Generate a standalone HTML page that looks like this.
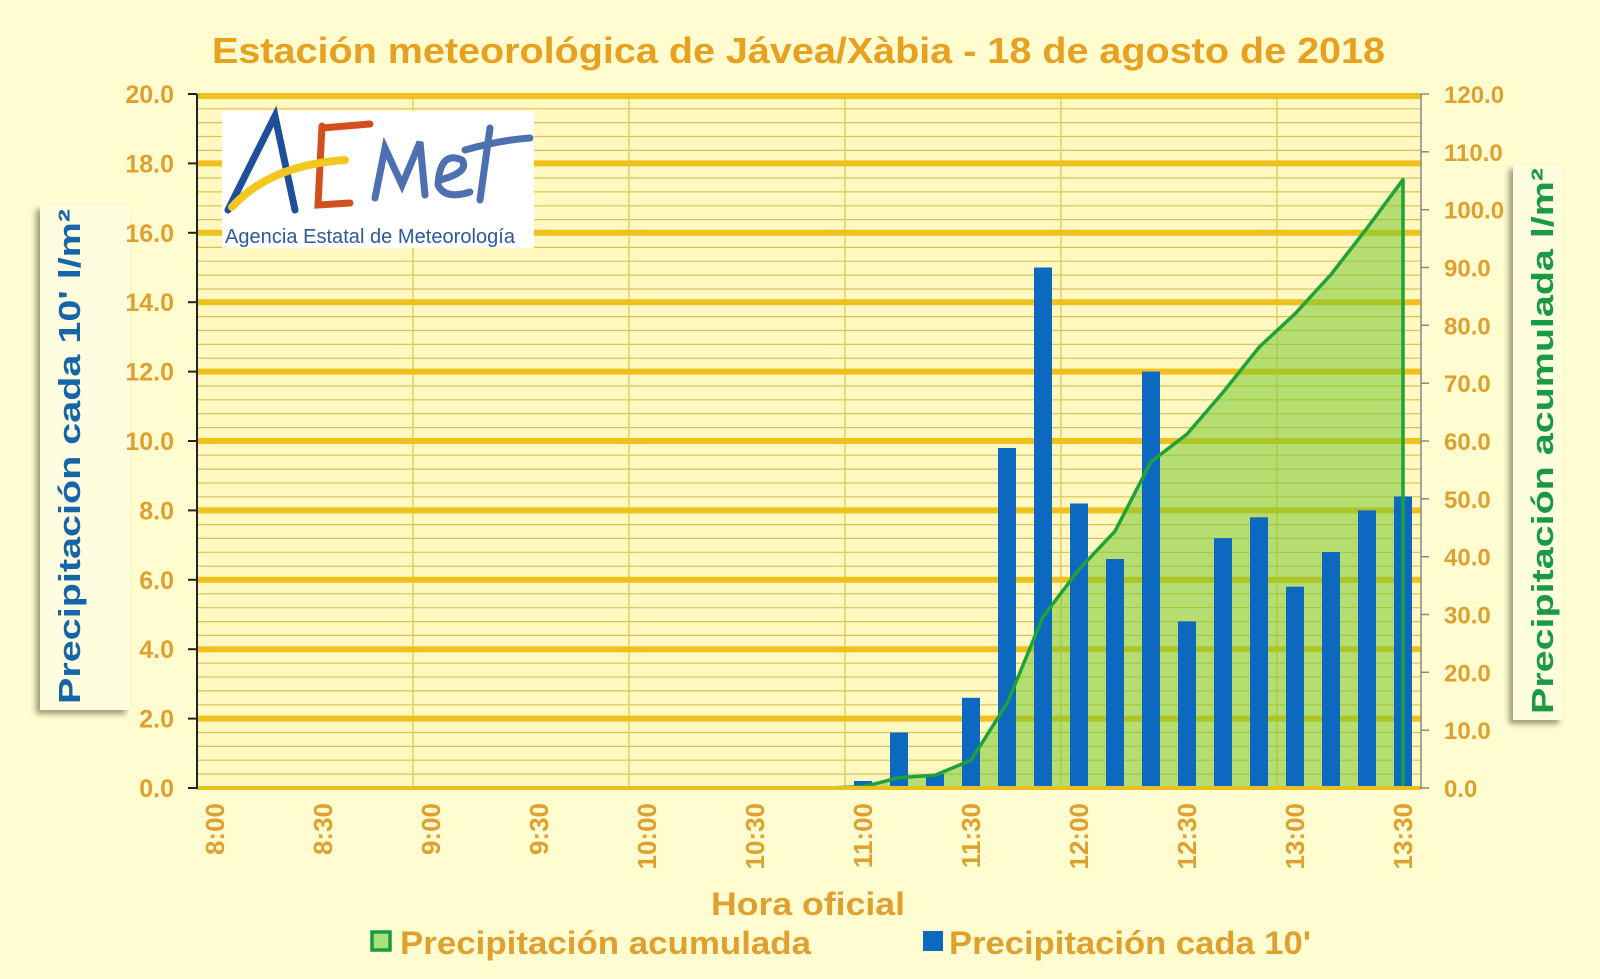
<!DOCTYPE html>
<html><head><meta charset="utf-8"><style>
html,body{margin:0;padding:0;background:#fffdd0;}
svg{display:block}
</style></head><body>
<svg width="1600" height="979" viewBox="0 0 1600 979" xmlns="http://www.w3.org/2000/svg" font-family="Liberation Sans, sans-serif">
<rect width="1600" height="979" fill="#fffdd0"/>
<text x="212" y="63" font-size="36" font-weight="bold" fill="#e8a020" textLength="1173" lengthAdjust="spacingAndGlyphs">Estación meteorológica de Jávea/Xàbia - 18 de agosto de 2018</text>
<rect x="40" y="205" width="90" height="505" fill="#fffde0" style="filter:drop-shadow(-4px 4px 3px rgba(90,90,60,0.6))"/>
<text transform="translate(80,704) rotate(-90)" font-size="31" font-weight="bold" fill="#1565a8" textLength="495" lengthAdjust="spacingAndGlyphs">Precipitación cada 10' l/m²</text>
<rect x="1513" y="165" width="50" height="555" fill="#fffde0" style="filter:drop-shadow(-4px 4px 3px rgba(90,90,60,0.6))"/>
<text transform="translate(1553,714) rotate(-90)" font-size="31" font-weight="bold" fill="#1a9a45" textLength="546" lengthAdjust="spacingAndGlyphs">Precipitación acumulada l/m²</text>
<rect x="197" y="94" width="1224" height="694" fill="#fff8c0"/>
<g stroke="#d8c35a" stroke-width="1.2">
<line x1="197" x2="1421" y1="774.1" y2="774.1"/><line x1="197" x2="1421" y1="760.2" y2="760.2"/><line x1="197" x2="1421" y1="746.4" y2="746.4"/><line x1="197" x2="1421" y1="732.5" y2="732.5"/>
<line x1="197" x2="1421" y1="704.8" y2="704.8"/><line x1="197" x2="1421" y1="690.9" y2="690.9"/><line x1="197" x2="1421" y1="677" y2="677"/><line x1="197" x2="1421" y1="663.2" y2="663.2"/>
<line x1="197" x2="1421" y1="635.4" y2="635.4"/><line x1="197" x2="1421" y1="621.6" y2="621.6"/><line x1="197" x2="1421" y1="607.7" y2="607.7"/><line x1="197" x2="1421" y1="593.8" y2="593.8"/>
<line x1="197" x2="1421" y1="566.2" y2="566.2"/><line x1="197" x2="1421" y1="552.3" y2="552.3"/><line x1="197" x2="1421" y1="538.4" y2="538.4"/><line x1="197" x2="1421" y1="524.6" y2="524.6"/>
<line x1="197" x2="1421" y1="496.8" y2="496.8"/><line x1="197" x2="1421" y1="483" y2="483"/><line x1="197" x2="1421" y1="469.1" y2="469.1"/><line x1="197" x2="1421" y1="455.2" y2="455.2"/>
<line x1="197" x2="1421" y1="427.6" y2="427.6"/><line x1="197" x2="1421" y1="413.7" y2="413.7"/><line x1="197" x2="1421" y1="399.8" y2="399.8"/><line x1="197" x2="1421" y1="386" y2="386"/>
<line x1="197" x2="1421" y1="358.2" y2="358.2"/><line x1="197" x2="1421" y1="344.4" y2="344.4"/><line x1="197" x2="1421" y1="330.5" y2="330.5"/><line x1="197" x2="1421" y1="316.6" y2="316.6"/>
<line x1="197" x2="1421" y1="289" y2="289"/><line x1="197" x2="1421" y1="275.1" y2="275.1"/><line x1="197" x2="1421" y1="261.2" y2="261.2"/><line x1="197" x2="1421" y1="247.4" y2="247.4"/>
<line x1="197" x2="1421" y1="219.6" y2="219.6"/><line x1="197" x2="1421" y1="205.8" y2="205.8"/><line x1="197" x2="1421" y1="191.9" y2="191.9"/><line x1="197" x2="1421" y1="178" y2="178"/>
<line x1="197" x2="1421" y1="150.4" y2="150.4"/><line x1="197" x2="1421" y1="136.5" y2="136.5"/><line x1="197" x2="1421" y1="122.6" y2="122.6"/><line x1="197" x2="1421" y1="108.8" y2="108.8"/>
</g>
<g stroke="#e6d060" stroke-width="1.5">
<line x1="413" x2="413" y1="94" y2="788"/><line x1="629" x2="629" y1="94" y2="788"/><line x1="845" x2="845" y1="94" y2="788"/><line x1="1061" x2="1061" y1="94" y2="788"/><line x1="1277" x2="1277" y1="94" y2="788"/>
</g>
<g stroke="#f0c01c" stroke-width="6">
<line x1="197" x2="1421" y1="718.6" y2="718.6"/><line x1="197" x2="1421" y1="649.2" y2="649.2"/><line x1="197" x2="1421" y1="579.8" y2="579.8"/><line x1="197" x2="1421" y1="510.4" y2="510.4"/><line x1="197" x2="1421" y1="441" y2="441"/><line x1="197" x2="1421" y1="371.6" y2="371.6"/><line x1="197" x2="1421" y1="302.2" y2="302.2"/><line x1="197" x2="1421" y1="232.8" y2="232.8"/><line x1="197" x2="1421" y1="163.4" y2="163.4"/><line x1="197" x2="1421" y1="96" y2="96"/>
</g>
<polygon points="827,788 863,786.8 899,777.6 935,775.3 971,760.2 1007,703.6 1043,616.8 1079,569.4 1115,531.2 1151,461.8 1187,434.1 1223,392.4 1259,347.3 1295,313.8 1331,274.5 1367,228.2 1403,179.6 1403,788" fill="rgba(120,200,50,0.55)"/>
<g fill="#0d68c0">
<rect x="854" y="781" width="18" height="7"/><rect x="890" y="732.5" width="18" height="55.5"/><rect x="926" y="774" width="18" height="14"/><rect x="962" y="697.8" width="18" height="90.2"/><rect x="998" y="448" width="18" height="340"/><rect x="1034" y="267.5" width="18" height="520.5"/><rect x="1070" y="503.5" width="18" height="284.5"/><rect x="1106" y="559" width="18" height="229"/><rect x="1142" y="371.6" width="18" height="416.4"/><rect x="1178" y="621.4" width="18" height="166.6"/><rect x="1214" y="538.2" width="18" height="249.8"/><rect x="1250" y="517.3" width="18" height="270.7"/><rect x="1286" y="586.7" width="18" height="201.3"/><rect x="1322" y="552" width="18" height="236"/><rect x="1358" y="510.4" width="18" height="277.6"/><rect x="1394" y="496.5" width="18" height="291.5"/>
</g>
<polyline points="827,788 863,786.8 899,777.6 935,775.3 971,760.2 1007,703.6 1043,616.8 1079,569.4 1115,531.2 1151,461.8 1187,434.1 1223,392.4 1259,347.3 1295,313.8 1331,274.5 1367,228.2 1403,179.6 1403,788" fill="none" stroke="#1fa23a" stroke-width="3.5" stroke-linejoin="round"/>
<line x1="197" x2="1421" y1="788" y2="788" stroke="#e8c020" stroke-width="4"/>
<line x1="197" x2="197" y1="94" y2="789" stroke="#222" stroke-width="2"/>
<line x1="1421" x2="1421" y1="94" y2="789" stroke="#888" stroke-width="1.5"/>
<g stroke="#222" stroke-width="2">
<line x1="188" x2="197" y1="788" y2="788"/><line x1="188" x2="197" y1="718.6" y2="718.6"/><line x1="188" x2="197" y1="649.2" y2="649.2"/><line x1="188" x2="197" y1="579.8" y2="579.8"/><line x1="188" x2="197" y1="510.4" y2="510.4"/><line x1="188" x2="197" y1="441" y2="441"/><line x1="188" x2="197" y1="371.6" y2="371.6"/><line x1="188" x2="197" y1="302.2" y2="302.2"/><line x1="188" x2="197" y1="232.8" y2="232.8"/><line x1="188" x2="197" y1="163.4" y2="163.4"/><line x1="188" x2="197" y1="94" y2="94"/>
</g>
<g stroke="#888" stroke-width="1.5">
<line x1="1421" x2="1429" y1="788" y2="788"/><line x1="1421" x2="1429" y1="730.2" y2="730.2"/><line x1="1421" x2="1429" y1="672.3" y2="672.3"/><line x1="1421" x2="1429" y1="614.5" y2="614.5"/><line x1="1421" x2="1429" y1="556.7" y2="556.7"/><line x1="1421" x2="1429" y1="498.8" y2="498.8"/><line x1="1421" x2="1429" y1="441" y2="441"/><line x1="1421" x2="1429" y1="383.2" y2="383.2"/><line x1="1421" x2="1429" y1="325.3" y2="325.3"/><line x1="1421" x2="1429" y1="267.5" y2="267.5"/><line x1="1421" x2="1429" y1="209.7" y2="209.7"/><line x1="1421" x2="1429" y1="151.8" y2="151.8"/><line x1="1421" x2="1429" y1="94" y2="94"/>
</g>
<g font-size="25" font-weight="bold" fill="#e0a030" text-anchor="end">
<text x="174" y="797">0.0</text><text x="174" y="727.6">2.0</text><text x="174" y="658.2">4.0</text><text x="174" y="588.8">6.0</text><text x="174" y="519.4">8.0</text><text x="174" y="450">10.0</text><text x="174" y="380.6">12.0</text><text x="174" y="311.2">14.0</text><text x="174" y="241.8">16.0</text><text x="174" y="172.4">18.0</text><text x="174" y="103">20.0</text>
</g>
<g font-size="24" font-weight="bold" fill="#e0a030">
<text x="1444" y="797">0.0</text><text x="1444" y="739.2">10.0</text><text x="1444" y="681.3">20.0</text><text x="1444" y="623.5">30.0</text><text x="1444" y="565.7">40.0</text><text x="1444" y="507.8">50.0</text><text x="1444" y="450">60.0</text><text x="1444" y="392.2">70.0</text><text x="1444" y="334.3">80.0</text><text x="1444" y="276.5">90.0</text><text x="1444" y="218.7">100.0</text><text x="1444" y="160.8">110.0</text><text x="1444" y="103">120.0</text>
</g>
<g font-size="26" font-weight="bold" fill="#e0a030" text-anchor="end">
<text transform="translate(224,803) rotate(-90)">8:00</text>
<text transform="translate(332,803) rotate(-90)">8:30</text>
<text transform="translate(440,803) rotate(-90)">9:00</text>
<text transform="translate(548,803) rotate(-90)">9:30</text>
<text transform="translate(656,803) rotate(-90)">10:00</text>
<text transform="translate(764,803) rotate(-90)">10:30</text>
<text transform="translate(872,803) rotate(-90)">11:00</text>
<text transform="translate(980,803) rotate(-90)">11:30</text>
<text transform="translate(1088,803) rotate(-90)">12:00</text>
<text transform="translate(1196,803) rotate(-90)">12:30</text>
<text transform="translate(1304,803) rotate(-90)">13:00</text>
<text transform="translate(1412,803) rotate(-90)">13:30</text>
</g>
<text x="711" y="915" font-size="32" font-weight="bold" fill="#e0a030" textLength="194" lengthAdjust="spacingAndGlyphs">Hora oficial</text>
<rect x="372" y="932" width="18" height="18" fill="#a8e080" stroke="#1a9a3a" stroke-width="3.5"/>
<text x="400" y="954" font-size="32" font-weight="bold" fill="#e0a030" textLength="411" lengthAdjust="spacingAndGlyphs">Precipitación acumulada</text>
<rect x="923" y="931" width="20" height="20" fill="#0d68c0"/>
<text x="949" y="954" font-size="32" font-weight="bold" fill="#e0a030" textLength="362" lengthAdjust="spacingAndGlyphs">Precipitación cada 10'</text>
<rect x="222" y="111" width="312" height="137" fill="#ffffff"/>
<g fill="none" stroke-linecap="round" stroke-width="7">
<path d="M228,210 L275,116 L295,210" stroke="#1d4f9a"/>
<path d="M322,126 L318,205 L350,203 M322,128 L370,124" stroke="#d2501e"/>
<path d="M232,207 Q270,165 345,160" stroke="#f2c820" stroke-width="8"/>
<path d="M375,198 L385,148 L402,185 L420,142 L425,195" stroke="#4e70b0"/>
<path d="M440,180 Q470,172 462,160 Q440,150 438,185 Q445,200 470,192" stroke="#4e70b0"/>
<path d="M490,128 L480,200 M465,150 Q500,140 530,138" stroke="#4e70b0"/>
</g>
<text x="225" y="243" font-size="20" fill="#2a5a9a" textLength="290">Agencia Estatal de Meteorología</text>
</svg>
</body></html>
